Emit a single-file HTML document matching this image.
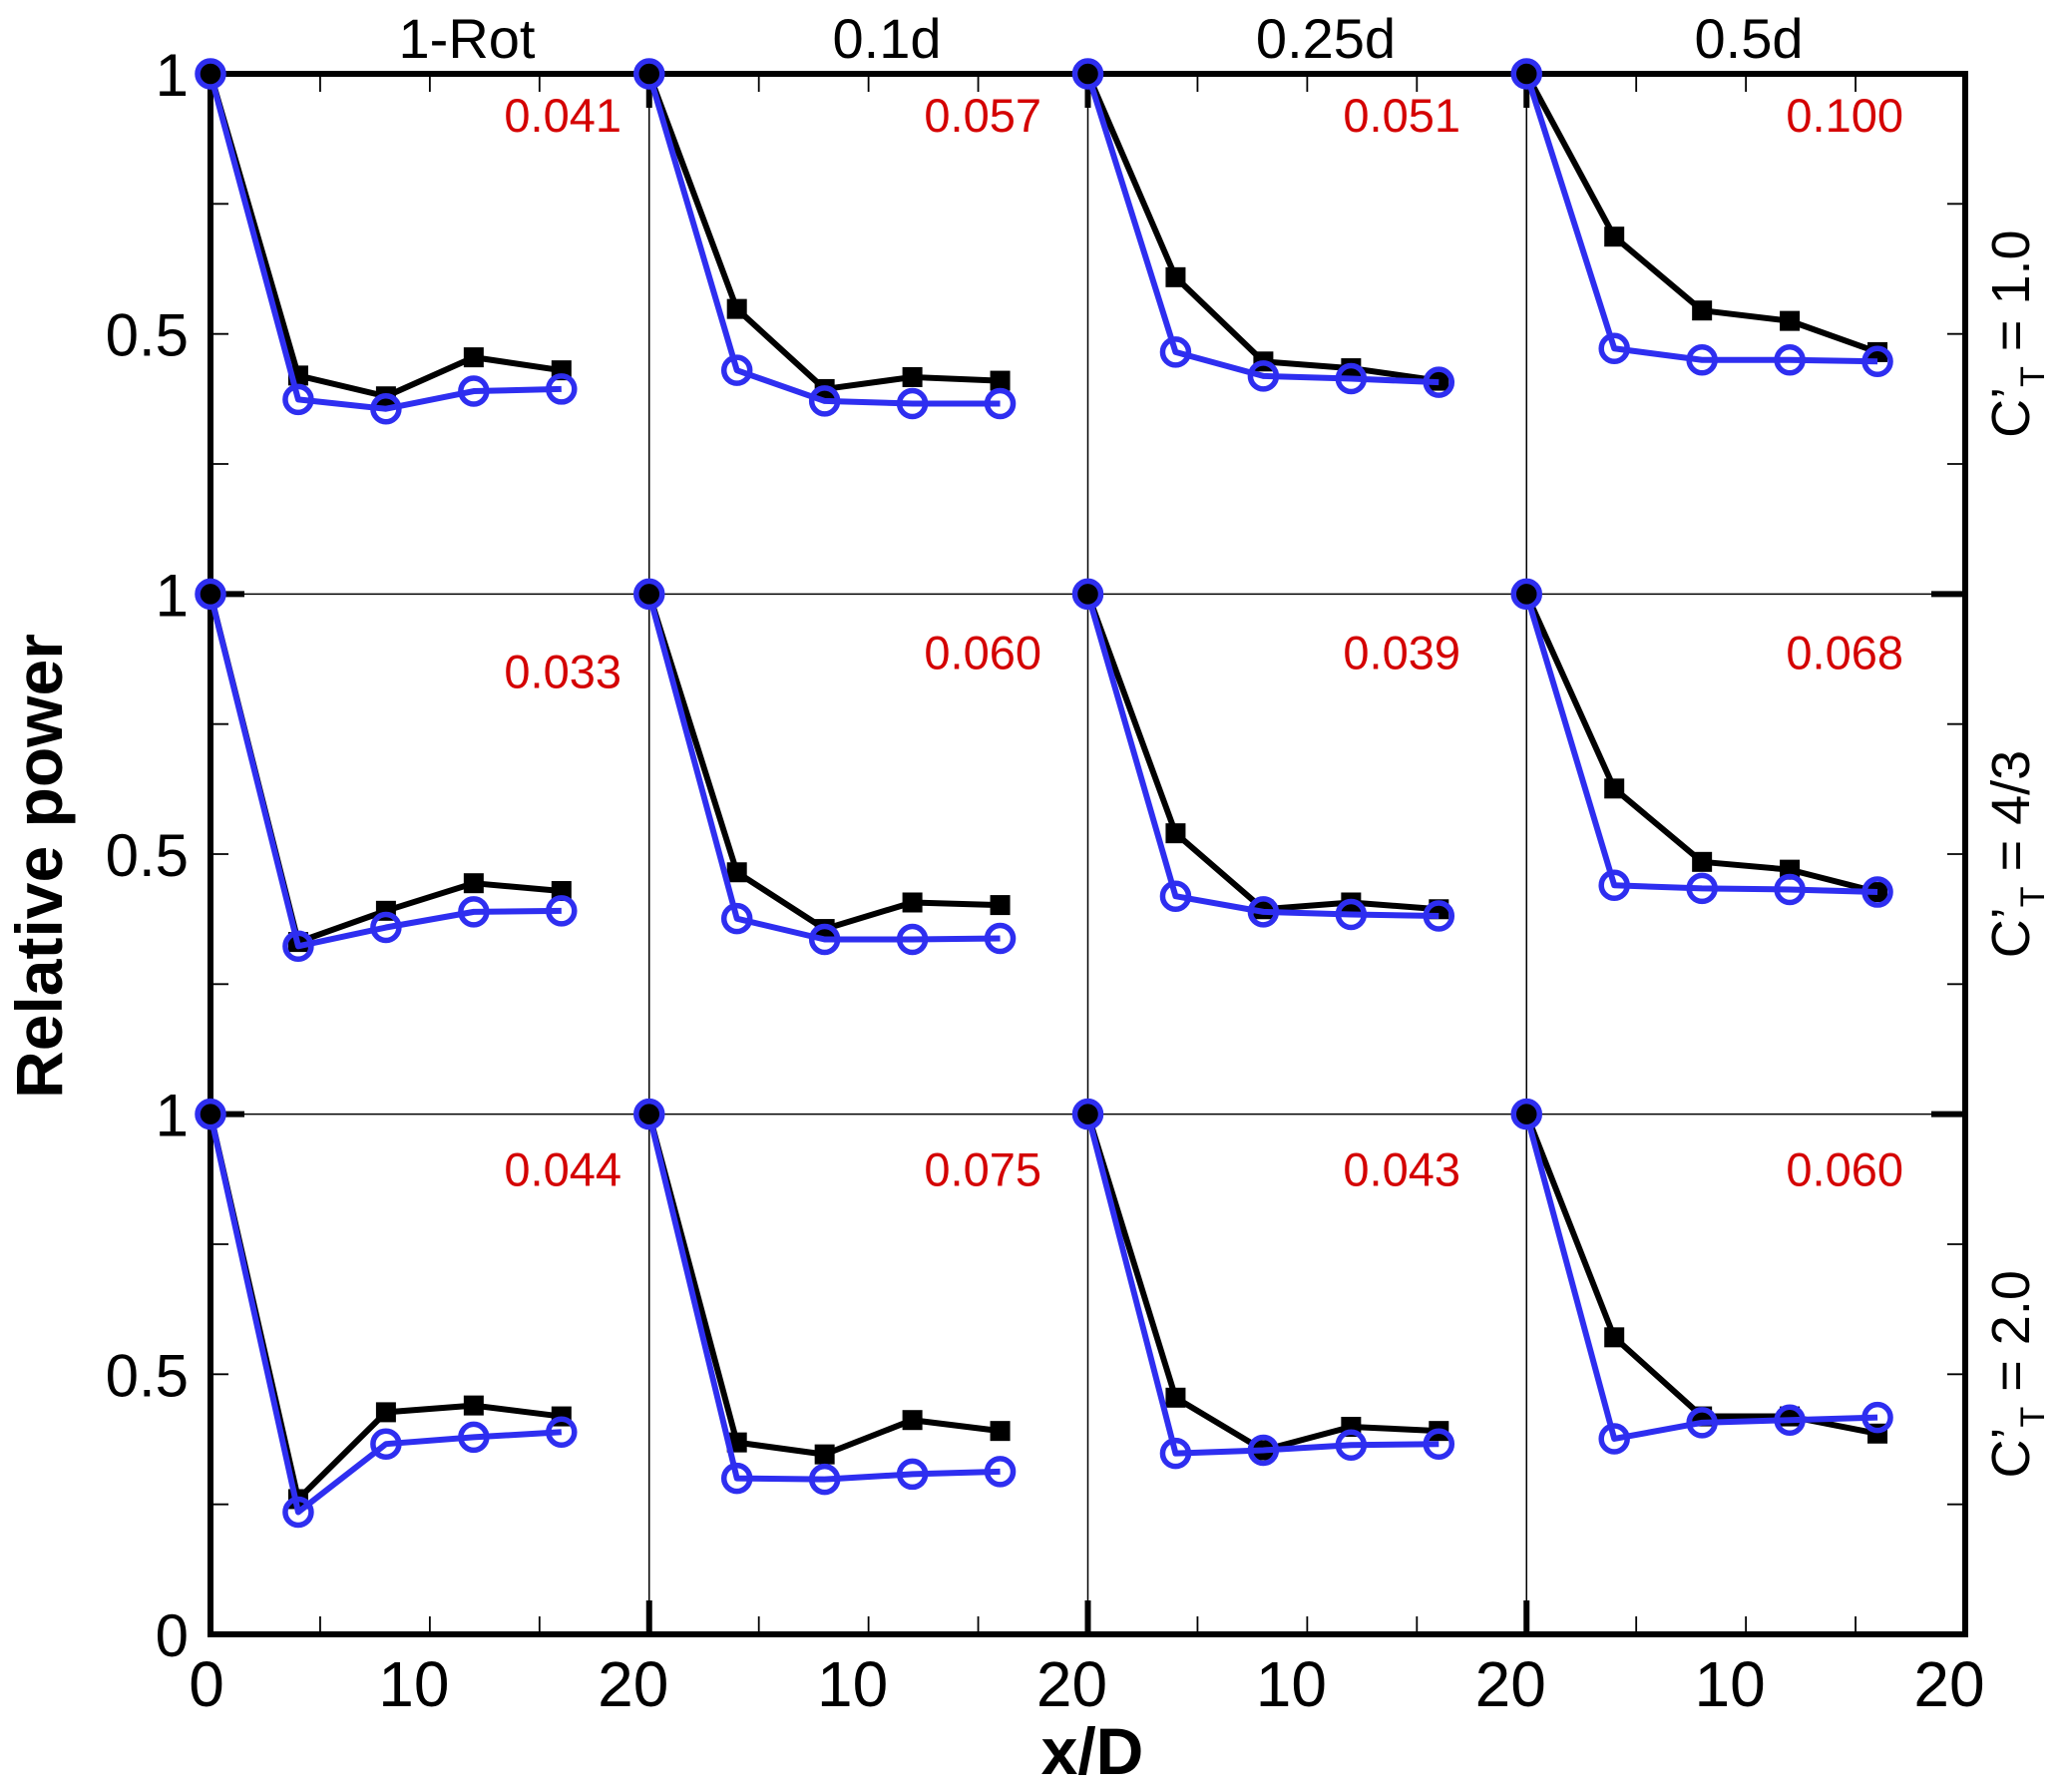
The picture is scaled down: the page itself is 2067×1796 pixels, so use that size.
<!DOCTYPE html>
<html><head><meta charset="utf-8"><style>
html,body{margin:0;padding:0;background:#fff;}
svg{display:block;font-family:"Liberation Sans",sans-serif;}
</style></head><body>
<svg id="chart" width="2067" height="1796" viewBox="0 0 2067 1796"></svg>
<script>
const xPositions = [0, 4, 8, 12, 16];
const colTitles = ["1-Rot", "0.1d", "0.25d", "0.5d"];
const rowLabels = ["1.0", "4/3", "2.0"];
const errValues = [
  ["0.041","0.057","0.051","0.100"],
  ["0.033","0.060","0.039","0.068"],
  ["0.044","0.075","0.043","0.060"]
];
const blackSeries = [
  [[1,0.42,0.38,0.455,0.43],[1,0.548,0.394,0.417,0.41],[1,0.609,0.447,0.434,0.41],[1,0.687,0.545,0.525,0.465]],
  [[1,0.331,0.391,0.444,0.429],[1,0.465,0.356,0.407,0.402],[1,0.54,0.394,0.407,0.394],[1,0.626,0.485,0.47,0.427]],
  [[1,0.26,0.427,0.44,0.419],[1,0.369,0.346,0.412,0.391],[1,0.455,0.354,0.399,0.391],[1,0.571,0.419,0.419,0.386]]
];
const blueSeries = [
  [[1,0.374,0.356,0.39,0.394],[1,0.43,0.371,0.366,0.366],[1,0.465,0.419,0.414,0.407],[1,0.472,0.45,0.45,0.447]],
  [[1,0.323,0.359,0.389,0.391],[1,0.376,0.336,0.336,0.338],[1,0.419,0.389,0.384,0.381],[1,0.44,0.434,0.432,0.427]],
  [[1,0.235,0.366,0.379,0.389],[1,0.3,0.298,0.308,0.313],[1,0.348,0.354,0.364,0.366],[1,0.376,0.407,0.412,0.417]]
];
const xTickLabels = ["0","10","20"];
const yTickLabels = ["1","0.5"];

const L=211, R=1970, T=74, B=1638;
const CW=(R-L)/4, RH=(B-T)/3;
const titleX=[468,889,1329,1753];
const errRight=[623,1044,1464,1908];
const svg=document.getElementById('chart');
const NS='http://www.w3.org/2000/svg';
function el(tag,attrs,parent){const e=document.createElementNS(NS,tag);for(const k in attrs)e.setAttribute(k,attrs[k]);(parent||svg).appendChild(e);return e;}
function xs(c,v){return L+c*CW+v/20*CW;}
function ys(r,v){return T+r*RH+(1-v)*RH;}

for(let c=1;c<4;c++){
  const d=el('line',{x1:L+c*CW,y1:T,x2:L+c*CW,y2:B,stroke:'#000','stroke-width':1.5});
  
  
  const t1=el('line',{x1:L+c*CW,y1:T,x2:L+c*CW,y2:T+34,stroke:'#000','stroke-width':6});
  
  
  const t2=el('line',{x1:L+c*CW,y1:B,x2:L+c*CW,y2:B-34,stroke:'#000','stroke-width':6});
  
  
}
for(let r=1;r<3;r++){
  const d=el('line',{x1:L,y1:T+r*RH,x2:R,y2:T+r*RH,stroke:'#000','stroke-width':1.5});
  
  
  const t1=el('line',{x1:L,y1:T+r*RH,x2:L+34,y2:T+r*RH,stroke:'#000','stroke-width':6});
  
  
  const t2=el('line',{x1:R,y1:T+r*RH,x2:R-34,y2:T+r*RH,stroke:'#000','stroke-width':6});
  
  
}
for(let c=0;c<4;c++){
  for(const v of [5,10,15]){
    const a=el('line',{x1:xs(c,v),y1:B,x2:xs(c,v),y2:B-18,stroke:'#000','stroke-width':1.8});
    
    
    const b=el('line',{x1:xs(c,v),y1:T,x2:xs(c,v),y2:T+18,stroke:'#000','stroke-width':1.8});
    
    
  }
}
for(let r=0;r<3;r++){
  for(const v of [0.25,0.5,0.75]){
    const a=el('line',{x1:L,y1:ys(r,v),x2:L+18,y2:ys(r,v),stroke:'#000','stroke-width':1.8});
    
    
    const b=el('line',{x1:R,y1:ys(r,v),x2:R-18,y2:ys(r,v),stroke:'#000','stroke-width':1.8});
    
    
  }
}
const fr=el('rect',{x:L,y:T,width:R-L,height:B-T,fill:'none',stroke:'#000','stroke-width':6});



for(let r=0;r<3;r++){
  [1,0.5].forEach((v,i)=>{
    const t=el('text',{x:L-22,y:ys(r,v)+22,'text-anchor':'end','font-size':60,fill:'#000'});
    t.textContent=yTickLabels[i];
    
    
  });
}
const z=el('text',{x:L-22,y:B+22,'text-anchor':'end','font-size':60,fill:'#000'});
z.textContent="0";



for(let c=0;c<4;c++){
  [0,10,20].forEach((v,i)=>{
    if(c>0 && v===0) return;
    const off = v===0 ? -4 : -16;
    const t=el('text',{x:xs(c,v)+off,y:B+72,'text-anchor':'middle','font-size':64,fill:'#000'});
    t.textContent=xTickLabels[i];
    
    
  });
}
colTitles.forEach((s,c)=>{
  const t=el('text',{x:titleX[c],y:58,'text-anchor':'middle','font-size':56,fill:'#000'});
  t.textContent=s;
  
  
});
rowLabels.forEach((s,r)=>{
  const cy=T+r*RH+RH/2, cx=2034;
  const t=el('text',{x:cx,y:cy,'text-anchor':'middle','font-size':54,fill:'#000',transform:`rotate(-90 ${cx} ${cy})`});
  t.innerHTML=`C’<tspan font-size="34" dy="15">T</tspan><tspan dy="-15"> = ${s}</tspan>`;
  
  
});
const yt=el('text',{x:62,y:868,'text-anchor':'middle','font-size':66,'font-weight':'bold',fill:'#000',transform:'rotate(-90 62 868)'});
yt.textContent="Relative power";


const xt=el('text',{x:1095,y:1778,'text-anchor':'middle','font-size':66,'font-weight':'bold',fill:'#000'});
xt.textContent="x/D";



for(let r=0;r<3;r++)for(let c=0;c<4;c++){
  const bp=xPositions.map((x,i)=>xs(c,x)+','+ys(r,blackSeries[r][c][i])).join(' ');
  const bl=el('polyline',{points:bp,fill:'none',stroke:'#000','stroke-width':6,'stroke-linejoin':'round'});
  
  
  xPositions.forEach((x,i)=>{
    if(i===0) return;
    const m=el('rect',{x:xs(c,x)-10,y:ys(r,blackSeries[r][c][i])-10,width:20,height:20,fill:'#000'});
    
    
  });
  const up=xPositions.map((x,i)=>xs(c,x)+','+ys(r,blueSeries[r][c][i])).join(' ');
  const ul=el('polyline',{points:up,fill:'none',stroke:'#2e2ef0','stroke-width':6,'stroke-linejoin':'round'});
  
  
  xPositions.forEach((x,i)=>{
    const m=el('circle',{cx:xs(c,x),cy:ys(r,blueSeries[r][c][i]),r:13,fill:i===0?'#000':'none',stroke:'#2e2ef0','stroke-width':5.5});
    
    
  });
  const ty=r===0?T+44+14:(r===1?(c===0?T+RH+80+14:T+RH+61+14):T+2*RH+58+14);
  const e=el('text',{x:errRight[c],y:ty,'text-anchor':'end','font-size':47,fill:'#d40000'});
  e.textContent=errValues[r][c];
  
  
}
</script>
</body></html>
